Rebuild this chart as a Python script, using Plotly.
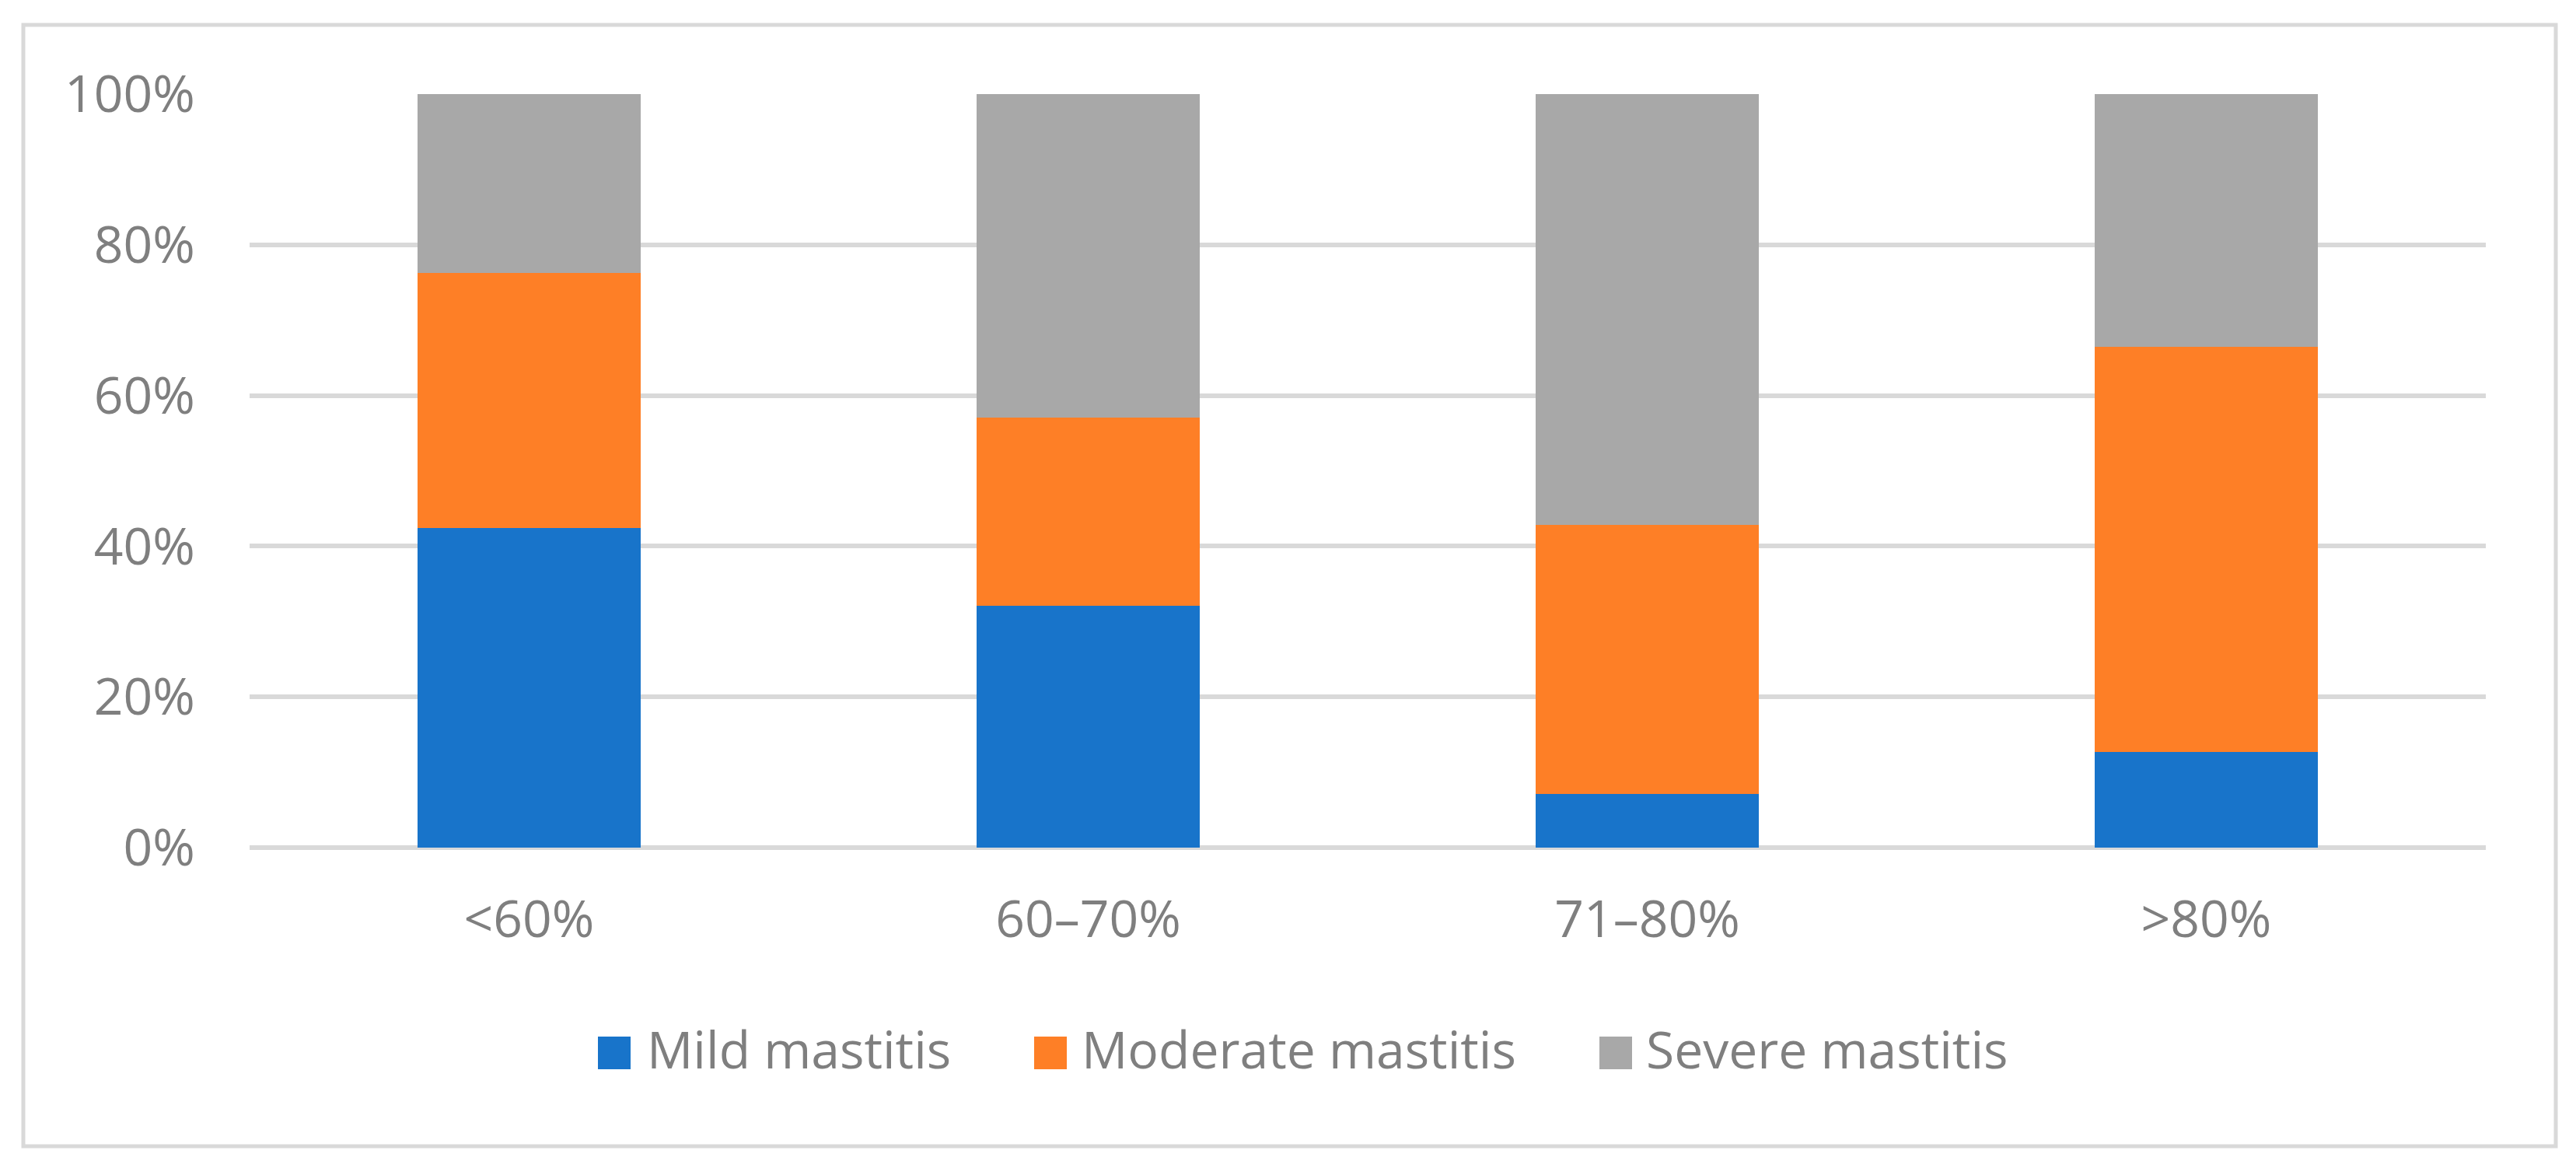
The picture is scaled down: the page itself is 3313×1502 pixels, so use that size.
import plotly.graph_objects as go

categories = ["<60%", "60–70%", "71–80%", ">80%"]
series_names = ["Mild mastitis", "Moderate mastitis", "Severe mastitis"]
mild = [42.4, 32.1, 7.1, 12.7]
moderate = [33.9, 25.0, 35.7, 53.8]
severe = [23.7, 42.9, 57.2, 33.5]
y_tick_vals = [0, 20, 40, 60, 80, 100]
y_tick_text = ["0%", "20%", "40%", "60%", "80%", "100%"]

colors = ["#1874CA", "#FE7F26", "#A8A8A8"]
OFF = 8  # page body margin
W, H = 3313 - 2 * OFF, 1502 - 2 * OFF
L, R, T, B = 321 - OFF, 3197 - OFF, 121 - OFF, 1090 - OFF
FONT = "Open Sans"
TXT = "#7f7f7f"


def px_x(p):
    return (p - OFF - L) / (R - L)


def px_y(p):
    return (B - (p - OFF)) / (B - T)


fig = go.Figure()
for name, vals, col in zip(series_names, [mild, moderate, severe], colors):
    fig.add_trace(go.Bar(x=categories, y=vals, name=name, marker_color=col,
                         marker_line_width=0, showlegend=False))

fig.update_layout(
    width=W, height=H,
    margin=dict(l=L, r=W - R, t=T, b=H - B, pad=0),
    barmode="stack", bargap=0.6,
    paper_bgcolor="white", plot_bgcolor="white",
    font=dict(family=FONT, size=66, color=TXT),
)
fig.update_yaxes(range=[0, 100], tickmode="array", tickvals=y_tick_vals, ticktext=y_tick_text,
                 showgrid=True, gridcolor="#d9d9d9", gridwidth=6,
                 zeroline=True, zerolinecolor="#d9d9d9", zerolinewidth=6,
                 showline=False, ticks="outside", ticklen=56, tickcolor="rgba(0,0,0,0)",
                 tickfont=dict(family=FONT, size=66, color=TXT))
fig.update_xaxes(showgrid=False, showline=False, ticks="outside", ticklen=35,
                 tickcolor="rgba(0,0,0,0)",
                 tickfont=dict(family=FONT, size=66, color=TXT))

shapes = [dict(type="rect", xref="paper", yref="paper",
               x0=px_x(30), x1=px_x(3287), y0=px_y(1474), y1=px_y(32),
               line=dict(color="#d9d9d9", width=5), fillcolor="rgba(0,0,0,0)", layer="below")]

legend_sw = [769, 1330, 2057]
legend_tx = [830, 1389, 2115]
for sx, tx, name, col in zip(legend_sw, legend_tx, series_names, colors):
    shapes.append(dict(type="rect", xref="paper", yref="paper",
                       x0=px_x(sx), x1=px_x(sx + 42), y0=px_y(1375), y1=px_y(1333),
                       line=dict(width=0), fillcolor=col))
    fig.add_annotation(x=px_x(tx), y=px_y(1348), xref="paper", yref="paper",
                       text=name, showarrow=False, xanchor="left", yanchor="middle",
                       font=dict(family=FONT, size=66, color=TXT))
fig.update_layout(shapes=shapes)

fig.write_html("out.html")
